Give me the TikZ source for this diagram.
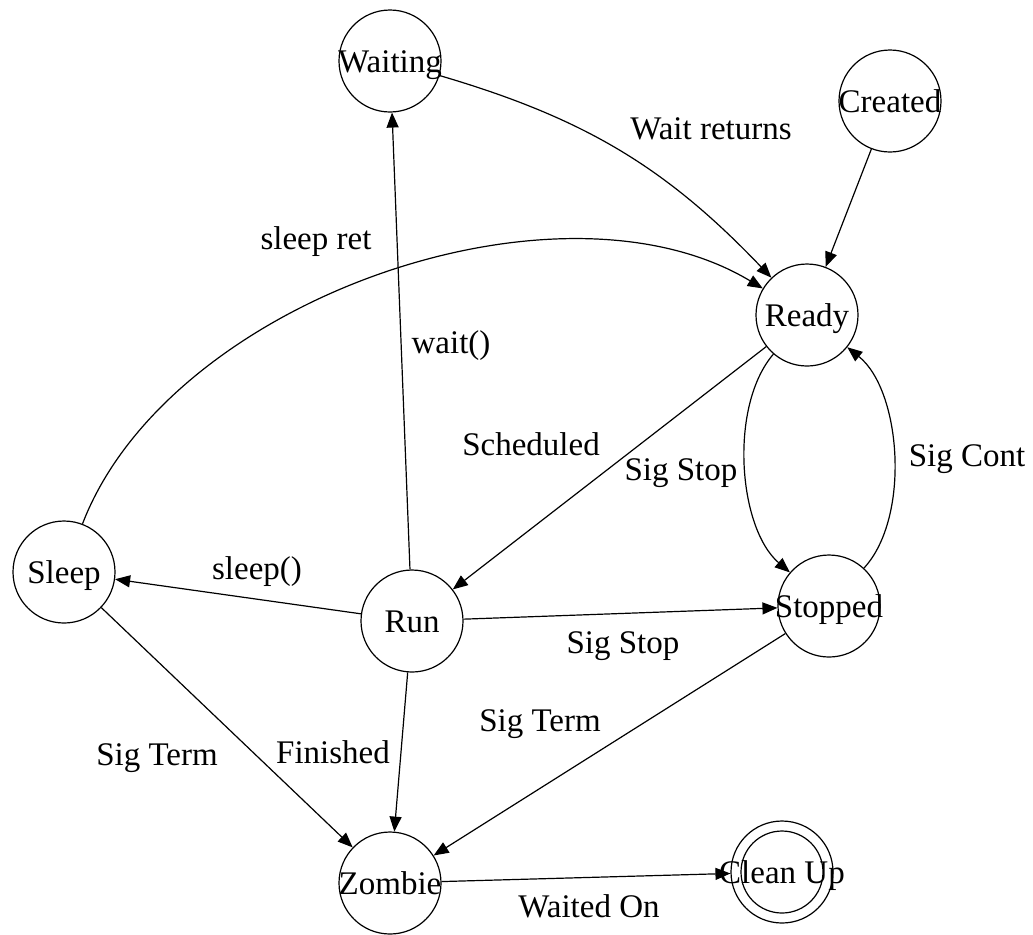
\documentclass[tikz,border=0pt]{standalone}
\usepackage{fontspec}
\setmainfont{Liberation Serif}
\usetikzlibrary{arrows.meta}
% state names may run past the circle without enlarging it
\newcommand{\statename}[1]{\raisebox{-2.5pt}{\makebox[0pt][c]{#1}}}
\begin{document}
\begin{tikzpicture}[x=0.5pt,y=0.5pt,
  every node/.style={font=\fontsize{16.5pt}{20pt}\selectfont},
  state/.style={circle, draw, line width=0.6pt, minimum size=51pt,
    inner sep=0pt, text height=0.66em, text depth=0pt},
  lbl/.style={inner sep=0pt, text height=0.66em, text depth=0pt},
  trans/.style={line width=0.6pt, -{Triangle[length=7.5pt,width=6pt]}}
]
\useasboundingbox (0,0) rectangle (1033,-934);

% states
\node[state] (waiting) at (390,-61)  {\statename{Waiting}};
\node[state] (created) at (890,-101) {\statename{Created}};
\node[state] (ready)   at (807,-315) {\statename{Ready}};
\node[state] (sleep)   at (64,-572)  {\statename{Sleep}};
\node[state] (run)     at (412,-621) {\statename{Run}};
\node[state] (stopped) at (829,-606) {\statename{Stopped}};
\node[state] (zombie)  at (390,-883) {\statename{Zombie}};
\node[state] (cleanup) at (782,-872) {\statename{Clean Up}};
\draw[line width=0.6pt] (cleanup.center) circle (20.5pt);

% transitions
\draw[trans] (waiting) to[bend left=15] (ready);
\draw[trans] (created) -- (ready);
\draw[trans] (sleep) to[out=69, in=149, looseness=0.85] (ready);
\draw[trans] (run) -- (waiting);
\draw[trans] (ready) -- (run);
\draw[trans] (ready) to[bend right=45, looseness=0.8] (stopped);
\draw[trans] (stopped) to[bend right=47, looseness=0.8] (ready);
\draw[trans] (run) -- (sleep);
\draw[trans] (run) -- (stopped);
\draw[trans] (run) -- (zombie);
\draw[trans] (sleep) -- (zombie);
\draw[trans] (stopped) -- (zombie);
\draw[trans] (zombie) -- (cleanup);

% transition labels
\node[lbl] (lwaitret)   at (711,-133) {Wait returns};
\node[lbl] (lsleepret)  at (316,-243) {sleep ret};
\node[lbl] (lwait)      at (451,-347) {wait()};
\node[lbl] (lsched)     at (531,-449) {Scheduled};
\node[lbl] (lsigstopa)  at (681,-474) {Sig Stop};
\node[lbl] (lsigcont)   at (967,-460) {Sig Cont};
\node[lbl] (lsleep)     at (257,-573) {sleep()};
\node[lbl] (lsigstopb)  at (623,-647) {Sig Stop};
\node[lbl] (lsigterma)  at (157,-759) {Sig Term};
\node[lbl] (lfinished)  at (333,-757) {Finished};
\node[lbl] (lsigtermb)  at (540,-725) {Sig Term};
\node[lbl] (lwaitedon)  at (589,-911) {Waited On};
\end{tikzpicture}
\end{document}
